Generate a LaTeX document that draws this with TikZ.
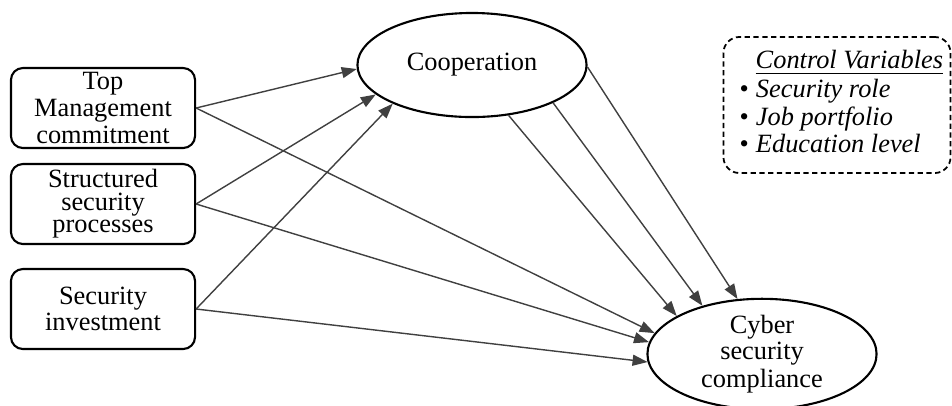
\documentclass[tikz,border=0pt]{standalone}
\usepackage{fontspec}
\setmainfont{Liberation Serif}
\usetikzlibrary{arrows.meta,shapes.geometric}
\begin{document}
\begin{tikzpicture}[x=0.01cm,y=-0.01cm,
  font=\fontsize{7.5}{6.4}\selectfont,
  factor/.style={draw,rounded corners=1.2mm,line width=0.6pt,minimum width=1.84cm,minimum height=0.8cm,align=center,inner sep=0pt},
  construct/.style={draw,ellipse,line width=0.6pt,minimum width=2.29cm,minimum height=1.04cm,align=center,inner sep=0pt},
  link/.style={-{Triangle[length=1.5mm,width=1.1mm]},line width=0.4pt,black!75}]
\useasboundingbox (0,0) rectangle (952,405);
% exogenous factors
\node[factor] (tmc) at (103,108) {Top\\Management\\commitment};
\node[factor] (ssp) at (103,204) {Structured\\security\\processes};
\node[factor] (sin) at (103,309) {Security\\investment};
% mediator and outcome
\node[construct] (coop) at (472,65) {Cooperation};
\node[construct,minimum height=1.02cm] (csc) at (762,354) {Cyber\\security\\compliance};
% control variables
\node[draw,dashed,dash pattern=on 1.5pt off 1pt,rounded corners=1.6mm,line width=0.5pt,minimum width=2.27cm,minimum height=1.36cm] (ctrl) at (837,105) {};
\node[anchor=north west,align=left,inner sep=0pt,font=\itshape\fontsize{7.5}{6.6}\selectfont] (ctrltxt) at (739,49)
  {\hspace*{1.6mm}\underline{Control Variables}\\
   {\upshape\textbullet}\hspace{0.7mm}Security role\\
   {\upshape\textbullet}\hspace{0.7mm}Job portfolio\\
   {\upshape\textbullet}\hspace{0.7mm}Education level};
% paths
\draw[link] (tmc.east) -- (coop.182);
\draw[link] (tmc.east) -- (csc.169);
\draw[link] (ssp.east) -- (coop.197);
\draw[link] (ssp.east) -- (csc.174);
\draw[link] (sin.east) -- (coop.206);
\draw[link] (sin.east) -- (csc.184);
\draw[link] (coop.306) -- (csc.156);
\draw[link] (coop.335) -- (csc.141);
\draw[link] (coop.359) -- (csc.114);
\end{tikzpicture}
\end{document}
